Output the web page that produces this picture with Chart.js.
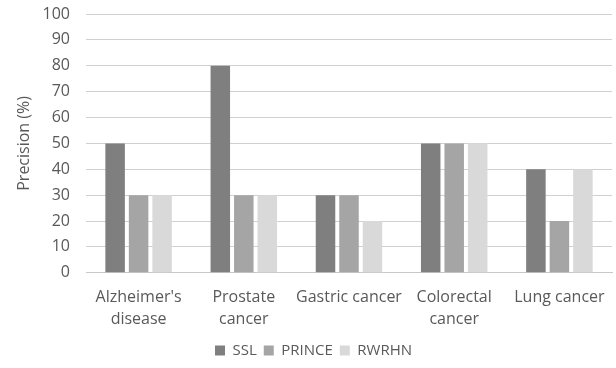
<!DOCTYPE html>
<html>
<head>
<meta charset="utf-8">
<script src="https://cdn.jsdelivr.net/npm/chart.js@4/dist/chart.umd.min.js"></script>
<style>
  html, body { margin: 0; padding: 0; background: #fff; }
  #wrap { width: 616px; height: 368px; position: relative; }
</style>
</head>
<body>
<div id="wrap"><canvas id="c"></canvas></div>
<script>
// Diseases on the x axis
const categories = [["Alzheimer's", "disease"], ["Prostate", "cancer"], "Gastric cancer", ["Colorectal", "cancer"], "Lung cancer"];
// Precision (%) per method
const ssl = [50, 80, 30, 50, 40];
const prince = [30, 30, 30, 50, 20];
const rwrhn = [30, 30, 20, 50, 40];
const yTicks = [0, 10, 20, 30, 40, 50, 60, 70, 80, 90, 100];

const FONT = "'Open Sans', 'Noto Sans', sans-serif";
const TEXT = '#595959';

new Chart(document.getElementById('c'), {
  type: 'bar',
  data: {
    labels: categories,
    datasets: [
      { label: 'SSL', data: ssl, backgroundColor: '#7f7f7f' },
      { label: 'PRINCE', data: prince, backgroundColor: '#a5a5a5' },
      { label: 'RWRHN', data: rwrhn, backgroundColor: '#d9d9d9' }
    ]
  },
  options: {
    responsive: true,
    maintainAspectRatio: false,
    animation: false,
    categoryPercentage: 0.67,
    barPercentage: 0.83,
    layout: { padding: { left: 15, right: 4, top: 0, bottom: 0 } },
    plugins: {
      tooltip: { enabled: false },
      legend: {
        position: 'bottom',
        labels: {
          font: { family: FONT, size: 15 },
          color: TEXT,
          boxWidth: 10,
          boxHeight: 10,
          padding: 7
        }
      }
    },
    scales: {
      x: {
        grid: { display: false },
        border: { color: '#c8c8c8' },
        ticks: { font: { family: FONT, size: 16, lineHeight: 1.35 }, color: TEXT, maxRotation: 0, autoSkip: false, padding: 6 },
        afterFit: (axis) => { axis.paddingLeft = 0; axis.paddingRight = 0; }
      },
      y: {
        min: 0,
        max: 100,
        afterBuildTicks: (axis) => { axis.ticks = yTicks.map(v => ({ value: v })); },
        afterFit: (axis) => { axis.width = 71; axis.paddingTop = 14; },
        grid: { color: '#d0d0d0', drawTicks: false },
        border: { display: false },
        ticks: { font: { family: FONT, size: 16 }, color: TEXT, padding: 16 },
        title: { display: true, text: 'Precision (%)', font: { family: FONT, size: 16 }, color: TEXT, padding: { top: 0, bottom: 8 } }
      }
    }
  }
});
</script>
</body>
</html>
